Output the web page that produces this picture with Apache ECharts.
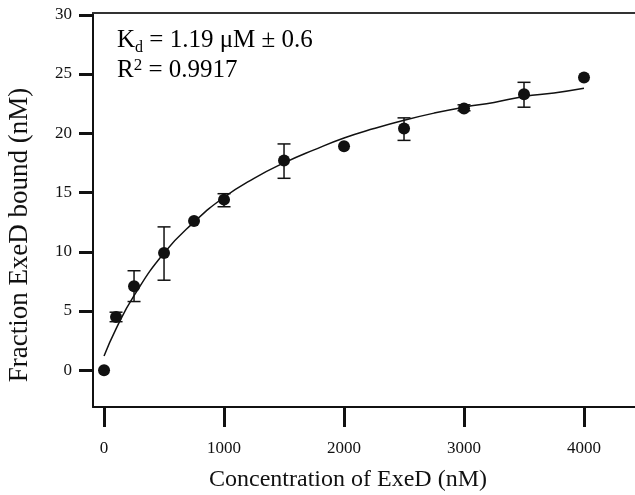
<!DOCTYPE html>
<html><head><meta charset="utf-8">
<script src="https://cdn.jsdelivr.net/npm/echarts@6/dist/echarts.min.js"></script>
<style>html,body{margin:0;padding:0;background:#fff}#c{width:635px;height:495px}</style>
</head><body><div id="c"></div>
<script>
// Measured data
const concX = [0, 100, 250, 500, 750, 1000, 1500, 2000, 2500, 3000, 3500, 4000];
const boundY = [0, 4.5, 7.1, 9.9, 12.6, 14.4, 17.7, 18.9, 20.4, 22.1, 23.3, 24.7];
// error bars: x, low, high
const errX = [100, 250, 500, 1000, 1500, 2500, 3000, 3500];
const errLow = [4.1, 5.8, 7.6, 13.8, 16.2, 19.4, 21.9, 22.2];
const errHigh = [4.9, 8.4, 12.1, 14.9, 19.1, 21.3, 22.4, 24.3];
// fit curve
const fitX = [0, 100, 250, 500, 750, 1000, 1250, 1500, 1750, 2000, 2250, 2500, 2750, 3000, 3250, 3500, 3750, 4000];
const fitY = [1.2, 3.5, 6.3, 9.9, 12.5, 14.6, 16.2, 17.5, 18.6, 19.6, 20.4, 21.1, 21.7, 22.2, 22.6, 23.1, 23.4, 23.8];
const xTicks = [0, 1000, 2000, 3000, 4000];
const yTicks = [0, 5, 10, 15, 20, 25, 30];

const serif = '"Liberation Serif", "DejaVu Serif", serif';
const ink = '#111';
const chart = echarts.init(document.getElementById('c'));
chart.setOption({
  animation: false,
  grid: { left: 93, top: 13, right: 0, bottom: 88, containLabel: false, outerBoundsMode: 'none' },
  xAxis: [{
    type: 'value', min: -92, max: 4425, position: 'bottom',
    name: 'Concentration of ExeD (nM)', nameLocation: 'middle', nameGap: 61,
    nameTextStyle: { fontFamily: serif, fontSize: 24, color: ink, padding: [0, 32, 0, 0] },
    axisLine: { show: true, onZero: false, lineStyle: { color: ink, width: 2 } },
    axisTick: { show: true, inside: false, length: 20, customValues: xTicks, lineStyle: { color: ink, width: 3 } },
    axisLabel: { customValues: xTicks, margin: 33, fontFamily: serif, fontSize: 17, color: ink,
      formatter: v => String(v) },
    splitLine: { show: false }
  }, {
    type: 'value', min: -92, max: 4425, position: 'top',
    axisLine: { show: true, onZero: false, lineStyle: { color: '#333', width: 2 } },
    axisTick: { show: false }, axisLabel: { show: false }, splitLine: { show: false }
  }],
  yAxis: {
    type: 'value', min: -3.1, max: 30.15,
    name: 'Fraction ExeD bound (nM)', nameLocation: 'middle', nameGap: 60,
    nameTextStyle: { fontFamily: serif, fontSize: 27, color: ink, padding: [0, 50, 0, 0] },
    axisLine: { show: true, onZero: false, lineStyle: { color: ink, width: 2 } },
    axisTick: { show: true, inside: false, length: 14, customValues: yTicks, lineStyle: { color: ink, width: 3 } },
    axisLabel: { customValues: yTicks, margin: 21, fontFamily: serif, fontSize: 17, color: ink,
      formatter: v => String(v) },
    splitLine: { show: false }
  },
  graphic: [{
    type: 'text', left: 117, top: 28,
    style: {
      text: '{a|K}{s|d}{a| = 1.19 μM ± 0.6}\n{a|R}{p|2}{a| = 0.9917}',
      rich: {
        a: { fontFamily: serif, fontSize: 25, color: ink, lineHeight: 30 },
        s: { fontFamily: serif, fontSize: 16, color: ink, lineHeight: 30, verticalAlign: 'bottom' },
        p: { fontFamily: serif, fontSize: 17, color: ink, lineHeight: 30, verticalAlign: 'top', padding: [2, 0, 0, 0] }
      }
    }
  }],
  series: [{
    type: 'line', data: fitX.map((x, i) => [x, fitY[i]]), smooth: true, showSymbol: false,
    lineStyle: { color: ink, width: 1.5 }, z: 2
  }, {
    type: 'custom',
    data: errX.map((x, i) => [x, errLow[i], errHigh[i]]),
    renderItem: function (params, api) {
      const lo = api.coord([api.value(0), api.value(1)]);
      const hi = api.coord([api.value(0), api.value(2)]);
      const w = 6.5;
      const st = { stroke: ink, lineWidth: 1.5 };
      return { type: 'group', children: [
        { type: 'line', shape: { x1: lo[0], y1: lo[1], x2: hi[0], y2: hi[1] }, style: st },
        { type: 'line', shape: { x1: lo[0] - w, y1: lo[1], x2: lo[0] + w, y2: lo[1] }, style: st },
        { type: 'line', shape: { x1: hi[0] - w, y1: hi[1], x2: hi[0] + w, y2: hi[1] }, style: st }
      ]};
    }, z: 3
  }, {
    type: 'scatter', data: concX.map((x, i) => [x, boundY[i]]), symbol: 'circle', symbolSize: 12,
    itemStyle: { color: ink, opacity: 1 }, z: 4
  }]
});
</script></body></html>
